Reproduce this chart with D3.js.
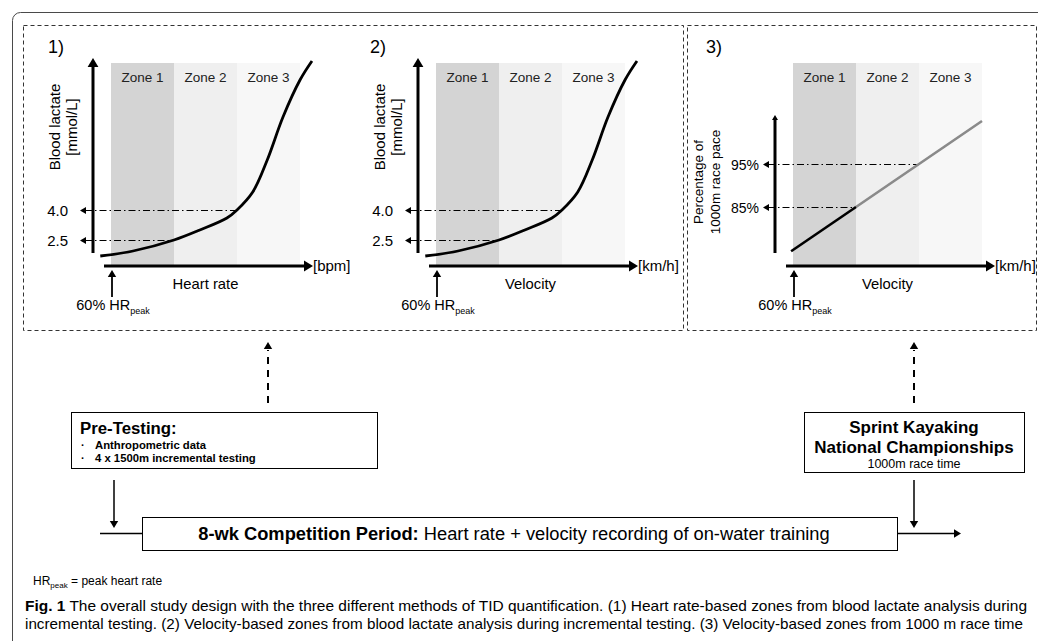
<!DOCTYPE html>
<html>
<head>
<meta charset="utf-8">
<script src="https://cdn.jsdelivr.net/npm/d3@7"></script>
<style>
  body { margin: 0; background: #fff; }
  svg { font-family: "Liberation Sans", Arial, sans-serif; }
</style>
</head>
<body>
<div id="viz"></div>
<script>
// ---- data ----
var zones = ["Zone 1", "Zone 2", "Zone 3"];
var zoneFill = ["#d4d4d4", "#efefef", "#f7f7f7"];

// lactate curve, x in zone units (0..3), y in mmol/L
var lactX = [-0.17, 0.35, 1.0, 1.41, 1.84, 2.0, 2.25, 2.48, 2.73, 3.0, 3.19];
var lactY = [1.7, 1.95, 2.5, 3.0, 3.6, 4.0, 4.9, 6.5, 8.65, 10.5, 11.45];
var lactTicks = [2.5, 4.0];
var lactLabels = ["2.5", "4.0"];

// race pace line, x in zone units, y in % of 1000m race pace
var paceX = [-0.03, 1, 2, 3];
var paceY = [74.7, 85, 95, 105];
var paceTicks = [85, 95];
var paceLabels = ["85%", "95%"];

var W = 1038, H = 641;

var svg = d3.select("#viz").append("svg")
  .attr("width", W).attr("height", H);

// outer frame
svg.append("rect")
  .attr("x", 12.5).attr("y", 12.5).attr("width", 1100).attr("height", 700)
  .attr("rx", 8).attr("fill", "none").attr("stroke", "#4a4a4a").attr("stroke-width", 1);

// dashed boxes
svg.append("rect").attr("x", 23.5).attr("y", 25.5).attr("width", 660).attr("height", 305)
  .attr("fill", "none").attr("stroke", "#333").attr("stroke-dasharray", "4,3");
svg.append("rect").attr("x", 687.5).attr("y", 25.5).attr("width", 349).attr("height", 305)
  .attr("fill", "none").attr("stroke", "#333").attr("stroke-dasharray", "4,3");

function tri(g, x, y, dir, size, color) {
  // arrowhead with tip at (x,y)
  var s = size || 6, w = s * 0.6;
  var p;
  if (dir == "up") p = [[x, y], [x - w, y + s], [x + w, y + s]];
  else if (dir == "down") p = [[x, y], [x - w, y - s], [x + w, y - s]];
  else if (dir == "left") p = [[x, y], [x + s, y - w], [x + s, y + w]];
  else p = [[x, y], [x - s, y - w], [x - s, y + w]];
  g.append("path").attr("d", "M" + p.join("L") + "Z").attr("fill", color || "#000");
}

function hrLabel(g, cx, y, fs) {
  var t = g.append("text").attr("x", cx).attr("y", y)
    .attr("text-anchor", "middle").attr("font-size", fs);
  t.append("tspan").text("60% HR");
  t.append("tspan").attr("font-size", fs * 0.62).attr("dy", 3.5).text("peak");
}

function panel(cfg) {
  var g = svg.append("g");
  var x = d3.scaleLinear().domain([0, 3]).range([cfg.z0, cfg.z0 + 189]);
  var y = d3.scaleLinear().domain(cfg.ydom).range(cfg.yrng);
  var fs = cfg.fs;

  g.selectAll("rect.zone").data(zones).join("rect")
    .attr("class", "zone")
    .attr("x", (d, i) => x(i)).attr("width", x(1) - x(0))
    .attr("y", 63).attr("height", cfg.zh)
    .attr("fill", (d, i) => zoneFill[i]);

  g.selectAll("text.zl").data(zones).join("text")
    .attr("class", "zl")
    .attr("x", (d, i) => x(i + 0.5)).attr("y", 82)
    .attr("text-anchor", "middle").attr("font-size", 13.5).attr("fill", "#222")
    .text(d => d);

  // panel number
  g.append("text").attr("x", cfg.numX).attr("y", 53).attr("font-size", 18).text(cfg.num);

  // threshold dash-dot lines
  cfg.ticks.forEach(function (t, i) {
    var yy = Math.round(y(t)) + 0.5;
    g.append("line").attr("x1", cfg.z0 - cfg.tipOff + 5).attr("x2", x(i + 1))
      .attr("y1", yy).attr("y2", yy)
      .attr("stroke", "#000").attr("stroke-width", 1).attr("stroke-dasharray", "7,3,1.5,3");
    tri(g, cfg.z0 - cfg.tipOff, yy, "left", 6);
    g.append("text").attr("x", cfg.z0 - cfg.labOff).attr("y", yy + 5)
      .attr("text-anchor", "end").attr("font-size", fs).text(cfg.labels[i]);
  });

  // curve
  var pts = cfg.cx.map((v, i) => [v, cfg.cy[i]]);
  var line = d3.line().x(d => x(d[0])).y(d => y(d[1])).curve(d3.curveCatmullRom.alpha(0.5));
  if (cfg.split) {
    g.append("path").attr("d", line(pts.slice(1))).attr("fill", "none")
      .attr("stroke", "#8a8a8a").attr("stroke-width", 2.6);
    g.append("path").attr("d", line(pts.slice(0, 2))).attr("fill", "none")
      .attr("stroke", "#000").attr("stroke-width", 2.6);
  } else {
    g.append("path").attr("d", line(pts)).attr("fill", "none")
      .attr("stroke", "#000").attr("stroke-width", 2.8);
  }

  // y axis
  var ax = cfg.z0 - 18;
  g.append("line").attr("x1", ax).attr("x2", ax).attr("y1", 253).attr("y2", cfg.yTop + cfg.yHead - 2)
    .attr("stroke", "#000").attr("stroke-width", 3);
  tri(g, ax, cfg.yTop, "up", cfg.yHead);

  // x axis
  g.append("line").attr("x1", cfg.z0 - 7).attr("x2", cfg.z0 + 195).attr("y1", 266).attr("y2", 266)
    .attr("stroke", "#000").attr("stroke-width", 3);
  tri(g, cfg.z0 + 202, 266, "right", 9);
  g.append("text").attr("x", cfg.z0 + 202).attr("y", 271).attr("font-size", 15).text(cfg.unit);
  g.append("text").attr("x", x(1.5)).attr("y", 288.5).attr("text-anchor", "middle")
    .attr("font-size", 14.8).text(cfg.xTitle);

  // 60% HR arrow
  g.append("line").attr("x1", cfg.z0 + 1).attr("x2", cfg.z0 + 1).attr("y1", 297).attr("y2", 276)
    .attr("stroke", "#000").attr("stroke-width", 1.8);
  tri(g, cfg.z0 + 1, 270, "up", 7);
  hrLabel(g, cfg.z0 + 2, 310, 14.5);

  // y title
  var yt = g.append("g").attr("transform", "translate(" + cfg.ytX + "," + cfg.ytY + ") rotate(-90)");
  cfg.yTitle.forEach(function (s, i) {
    yt.append("text").attr("x", 0).attr("y", i * 17 + 5).attr("text-anchor", "middle")
      .attr("font-size", cfg.ytFs).text(s);
  });
}

panel({ z0: 111, zh: 202, ydom: [2.5, 4.0], yrng: [240, 210], ticks: lactTicks, labels: lactLabels,
  cx: lactX, cy: lactY, num: "1)", numX: 48, tipOff: 31, labOff: 43, yTop: 58, yHead: 9, fs: 15,
  unit: "[bpm]", xTitle: "Heart rate", ytX: 55, ytY: 127, ytFs: 15, yTitle: ["Blood lactate", "[mmol/L]"] });
panel({ z0: 436, zh: 202, ydom: [2.5, 4.0], yrng: [240, 210], ticks: lactTicks, labels: lactLabels,
  cx: lactX, cy: lactY, num: "2)", numX: 370, tipOff: 31, labOff: 43, yTop: 58, yHead: 9, fs: 15,
  unit: "[km/h]", xTitle: "Velocity", ytX: 380, ytY: 127, ytFs: 15, yTitle: ["Blood lactate", "[mmol/L]"] });
panel({ z0: 793, zh: 204, ydom: [85, 95], yrng: [207, 164], ticks: paceTicks, labels: paceLabels,
  cx: paceX, cy: paceY, split: true, num: "3)", numX: 706, tipOff: 30, labOff: 34, yTop: 115, yHead: 5, fs: 14,
  unit: "[km/h]", xTitle: "Velocity", ytX: 698, ytY: 182, ytFs: 13.5, yTitle: ["Percentage of", "1000m race pace"] });

// ---- flow diagram ----
var f = svg.append("g");

function dashedUp(xx) {
  f.append("line").attr("x1", xx).attr("x2", xx).attr("y1", 403).attr("y2", 350)
    .attr("stroke", "#000").attr("stroke-width", 2).attr("stroke-dasharray", "7,6");
  tri(f, xx, 342, "up", 7);
}
dashedUp(268);
dashedUp(914);

// Pre-testing box
f.append("rect").attr("x", 71.5).attr("y", 412.5).attr("width", 306).attr("height", 56)
  .attr("fill", "#fff").attr("stroke", "#000");
f.append("text").attr("x", 80).attr("y", 434).attr("font-size", 16.8).attr("font-weight", "bold").text("Pre-Testing:");
["Anthropometric data", "4 x 1500m incremental testing"].forEach(function (s, i) {
  f.append("text").attr("x", 81).attr("y", 449 + i * 13).attr("font-size", 11).attr("font-weight", "bold").text("\u00b7");
  f.append("text").attr("x", 95).attr("y", 449 + i * 13).attr("font-size", 11.3).attr("font-weight", "bold").text(s);
});

// Sprint kayaking box
f.append("rect").attr("x", 804.5).attr("y", 412.5).attr("width", 220).attr("height", 60)
  .attr("fill", "#fff").attr("stroke", "#000");
f.append("text").attr("x", 914).attr("y", 432.5).attr("text-anchor", "middle").attr("font-size", 17)
  .attr("font-weight", "bold").text("Sprint Kayaking");
f.append("text").attr("x", 914).attr("y", 452.5).attr("text-anchor", "middle").attr("font-size", 17)
  .attr("font-weight", "bold").text("National Championships");
f.append("text").attr("x", 914).attr("y", 467.5).attr("text-anchor", "middle").attr("font-size", 12.5).text("1000m race time");

// down arrows
[114, 914].forEach(function (xx) {
  f.append("line").attr("x1", xx).attr("x2", xx).attr("y1", 480).attr("y2", 522)
    .attr("stroke", "#000").attr("stroke-width", 1.5);
  tri(f, xx, 528, "down", 7);
});

// main box
f.append("line").attr("x1", 100).attr("x2", 142).attr("y1", 533.5).attr("y2", 533.5).attr("stroke", "#000").attr("stroke-width", 1.5);
f.append("rect").attr("x", 142.5).attr("y", 517.5).attr("width", 755).attr("height", 33)
  .attr("fill", "#fff").attr("stroke", "#000");
f.append("line").attr("x1", 898).attr("x2", 955).attr("y1", 533.5).attr("y2", 533.5).attr("stroke", "#000").attr("stroke-width", 1.5);
tri(f, 961, 533.5, "right", 7);
var mt = f.append("text").attr("x", 514).attr("y", 540).attr("text-anchor", "middle").attr("font-size", 18.3);
mt.append("tspan").attr("font-weight", "bold").text("8-wk Competition Period:");
mt.append("tspan").text(" Heart rate + velocity recording of on-water training");

// ---- footnote & caption ----
var fn = svg.append("text").attr("x", 33).attr("y", 585).attr("font-size", 12);
fn.append("tspan").text("HR");
fn.append("tspan").attr("font-size", 8).attr("dy", 3).text("peak");
fn.append("tspan").attr("dy", -3).text(" = peak heart rate");

var c1 = svg.append("text").attr("x", 25).attr("y", 611).attr("font-size", 14.5)
  .attr("textLength", 1002).attr("lengthAdjust", "spacingAndGlyphs");
c1.append("tspan").attr("font-weight", "bold").text("Fig. 1");
c1.append("tspan").text("  The overall study design with the three different methods of TID quantification. (1) Heart rate-based zones from blood lactate analysis during");
svg.append("text").attr("x", 25).attr("y", 629).attr("font-size", 14.5)
  .attr("textLength", 998).attr("lengthAdjust", "spacingAndGlyphs")
  .text("incremental testing. (2) Velocity-based zones from blood lactate analysis during incremental testing. (3) Velocity-based zones from 1000 m race time");
</script>
</body>
</html>
